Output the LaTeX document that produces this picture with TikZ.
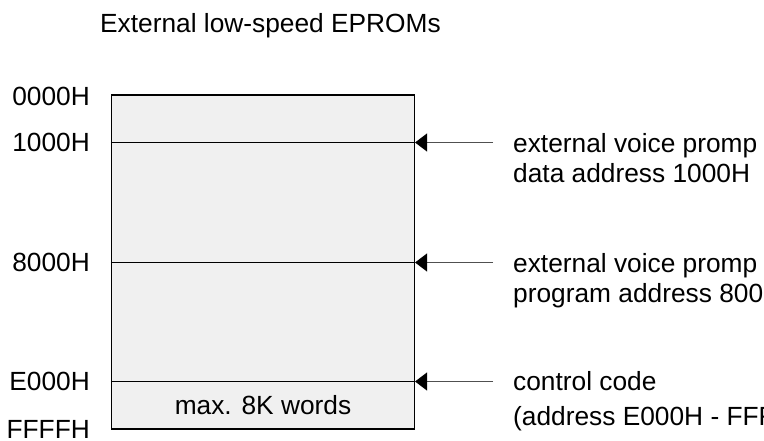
\documentclass[tikz,border=0pt]{standalone}
\usepackage{fontspec}
\setmainfont{Liberation Sans}
\usetikzlibrary{arrows.meta,positioning}
\definecolor{romfill}{HTML}{F0F0F0}
\definecolor{wire}{HTML}{505050}

\begin{document}
\begin{tikzpicture}[x=1pt,y=-1pt,
    txt/.style={inner sep=0pt,font=\fontsize{26.3}{30}\selectfont},
    addr/.style={txt,anchor=east},
    note/.style={txt,anchor=north west,align=left},
    sep/.style={line width=1pt},
    ptr/.style={wire,line width=1pt,
      -{Triangle[length=12pt,width=18pt,color=black,fill=black]}}]
  \useasboundingbox (0,0) rectangle (764,441);
  \clip (0,0) rectangle (764,441);
  \node[txt,anchor=base west] (title) at (100,32.5) {External low-speed EPROMs};
  \node[draw,fill=romfill,line width=1.1pt,inner sep=0pt,
        minimum width=303pt,minimum height=334pt] (rom) at (263,262) {};
  \node[addr] (a0) at (90,96) {0000H};
  \node[addr] (a1) at (90,142.5) {1000H};
  \node[addr] (a8) at (90,262.5) {8000H};
  \node[addr] (ae) at (90,381.5) {E000H};
  \node[addr] (af) at (90,429.5) {FFFFH};
  \coordinate (w1) at (rom.west |- a1);
  \coordinate (e1) at (rom.east |- a1);
  \coordinate (w8) at (rom.west |- a8);
  \coordinate (e8) at (rom.east |- a8);
  \coordinate (we) at (rom.west |- ae);
  \coordinate (ee) at (rom.east |- ae);
  \draw[sep] (w1) -- (e1);
  \draw[sep] (w8) -- (e8);
  \draw[sep] (we) -- (ee);
  \node[txt,anchor=base] (size) at (263,414.5) {max. 8K words};
  \coordinate (s1) at (493,142.5);
  \coordinate (s8) at (493,262.5);
  \coordinate (se) at (493,381.5);
  \path[ptr] (s1) edge (e1);
  \path[ptr] (s8) edge (e8);
  \path[ptr] (se) edge (ee);
  \node[note] (n1) at (513,133) {external voice promp\\data address 1000H};
  \node[note] (n8) at (513,253) {external voice promp\\program address 8000H};
  \node[note] (ne) at (513,371.5) {control code\\[5pt](address E000H - FFFFH)};
\end{tikzpicture}
\end{document}
